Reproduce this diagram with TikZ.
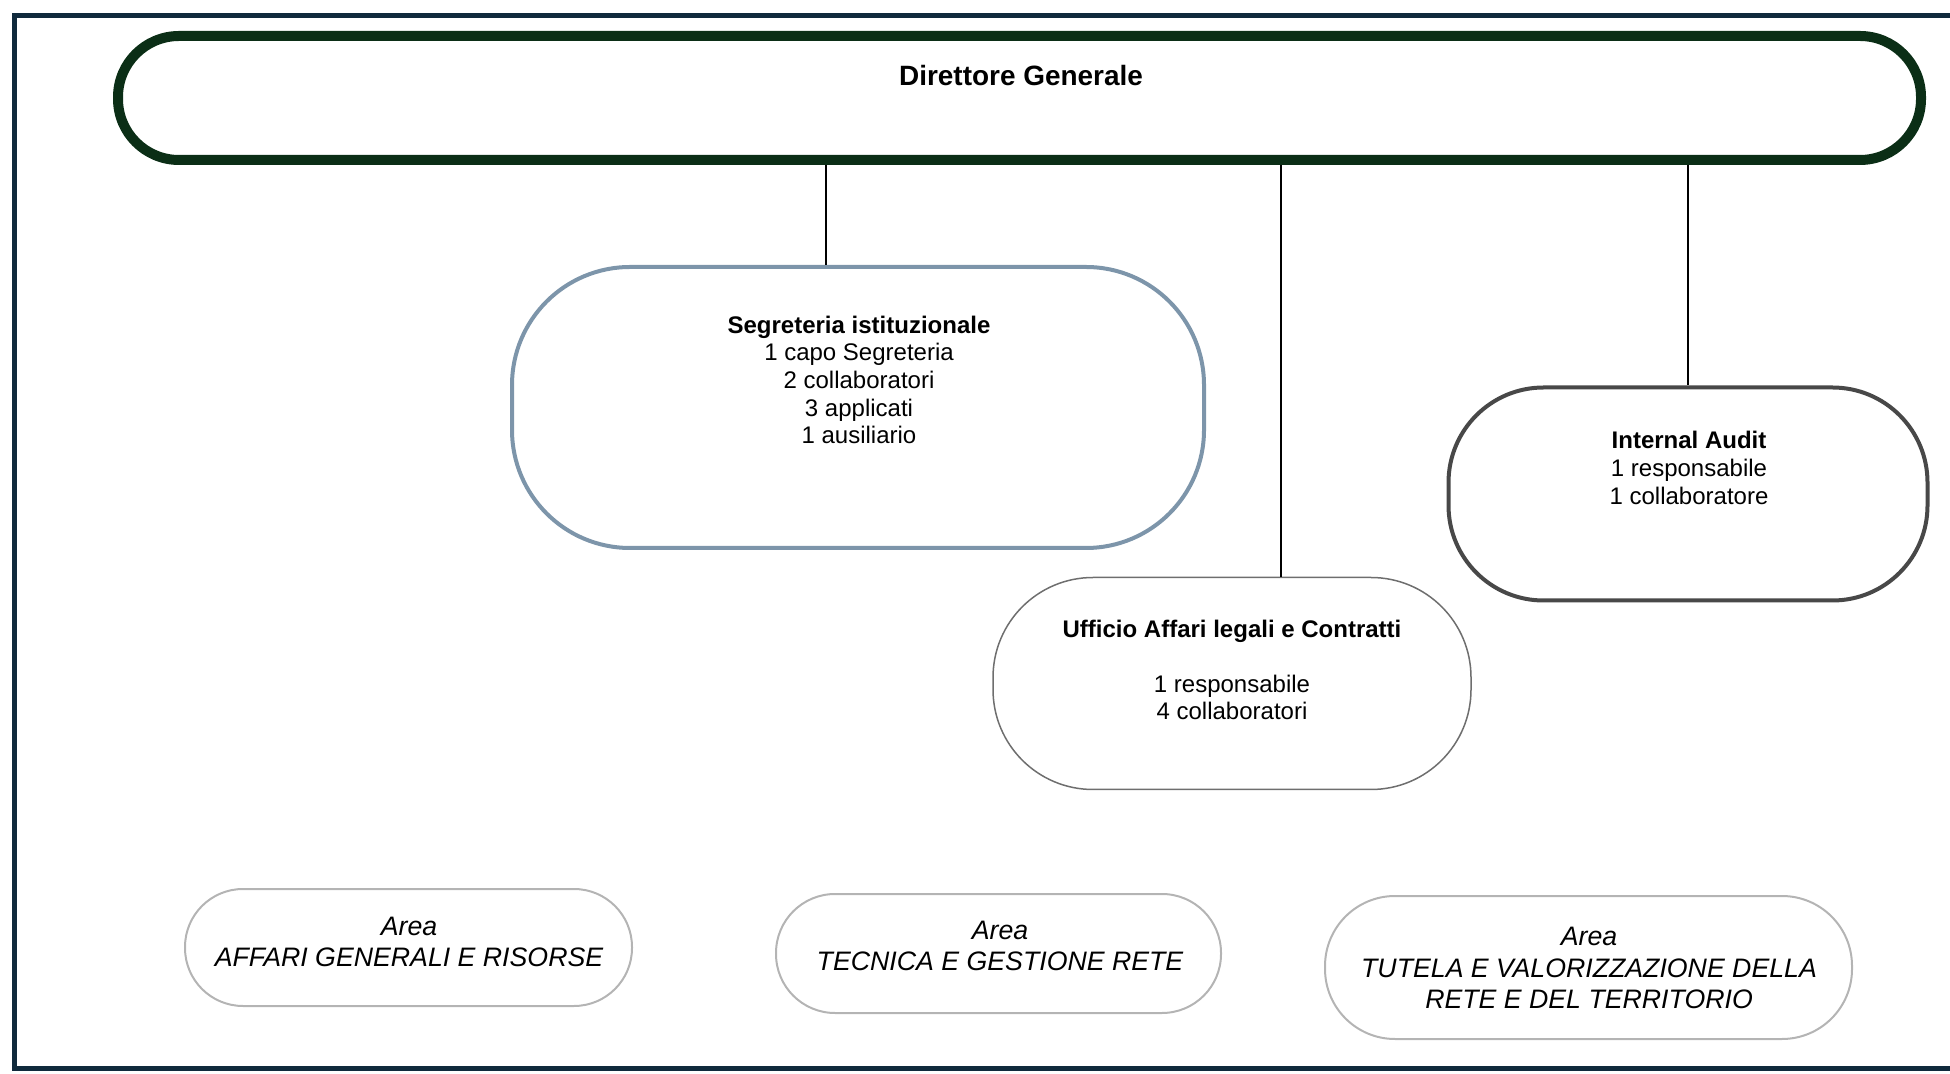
\documentclass[tikz,border=0pt]{standalone}
\usepackage{fontspec}
\setmainfont{Liberation Sans}
\definecolor{framecol}{HTML}{102A3C}
\definecolor{dgcol}{HTML}{0B2E16}
\definecolor{segcol}{HTML}{7D95AA}
\definecolor{iacol}{HTML}{484848}
\definecolor{ufcol}{HTML}{6E6E6E}
\definecolor{areacol}{HTML}{B4B4B4}
\begin{document}
\begin{tikzpicture}[%
            x=0.1mm, y=-0.1mm,
            mybox/.style={shape=rectangle, draw, inner sep=0pt},
            mytext/.style={align=center, inner sep=0pt, font=\fontsize{6.83pt}{7.85pt}\selectfont},
            myarea/.style={align=center, inner sep=0pt, font=\fontsize{7.6pt}{8.95pt}\selectfont\itshape},
            myline/.style={line width=0.25mm}
    ]
        \useasboundingbox (0,0) rectangle (1950,1074);
        \draw [framecol, line width=0.5mm] (1975,16) -- (14,16) -- (14,1068) -- (1975,1068);

        \coordinate (k1) at (826,0);
        \coordinate (k2) at (1281,0);

        % boxes
        \node [mybox, draw=dgcol, line width=1mm, rounded corners=6.1mm,
            minimum width=180.3mm, minimum height=12.4mm] (dg) at (1019.5,98) {};
        \node [mybox, draw=segcol, line width=0.4mm, rounded corners=11.8mm,
            minimum width=69.2mm, minimum height=28.1mm] (seg) at (858,407.5) {};
        \node [mybox, draw=ufcol, line width=0.15mm, rounded corners=10mm,
            minimum width=47.8mm, minimum height=21.2mm] (uf) at (1232,683.5) {};
        \node [mybox, draw=iacol, line width=0.4mm, rounded corners=9.5mm,
            minimum width=47.9mm, minimum height=21.3mm] (ia) at (1688,494) {};
        \node [mybox, draw=areacol, line width=0.2mm, rounded corners=5.8mm,
            minimum width=44.7mm, minimum height=11.7mm] (a1) at (408.5,947.5) {};
        \node [mybox, draw=areacol, line width=0.2mm, rounded corners=5.9mm,
            minimum width=44.5mm, minimum height=11.9mm] (a2) at (998.5,953.5) {};
        \node [mybox, draw=areacol, line width=0.2mm, rounded corners=7mm,
            minimum width=52.7mm, minimum height=14.3mm] (a3) at (1588.5,967.5) {};

        % texts
        \path (1021,76) node [inner sep=0pt, font=\fontsize{7.95pt}{9pt}\selectfont\bfseries] (dgtxt) {Direttore Generale};
        \path (859,380) node [mytext] (segtxt) {\textbf{Segreteria istituzionale}\\1 capo Segreteria\\2 collaboratori\\3 applicati\\1 ausiliario};
        \path (1232,670) node [mytext] (uftxt) {\textbf{Ufficio Affari legali e Contratti}\\[7.85pt]1 responsabile\\4 collaboratori};
        \path (1689,468) node [mytext] (iatxt) {\textbf{Internal Audit}\\1 responsabile\\1 collaboratore};
        \path (409,942) node [myarea] (a1txt) {Area\\AFFARI GENERALI E RISORSE};
        \path (1000,946) node [myarea] (a2txt) {Area\\TECNICA E GESTIONE RETE};
        \path (1589,968) node [myarea] (a3txt) {Area\\TUTELA E VALORIZZAZIONE DELLA\\RETE E DEL TERRITORIO};

        % connectors
        \draw [myline] (dg.south -| k1) -- (seg.north -| k1);
        \draw [myline] (dg.south -| k2) -- (uf.north -| k2);
        \draw [myline] (dg.south -| ia.north) -- (ia.north);
    \end{tikzpicture}
\end{document}
